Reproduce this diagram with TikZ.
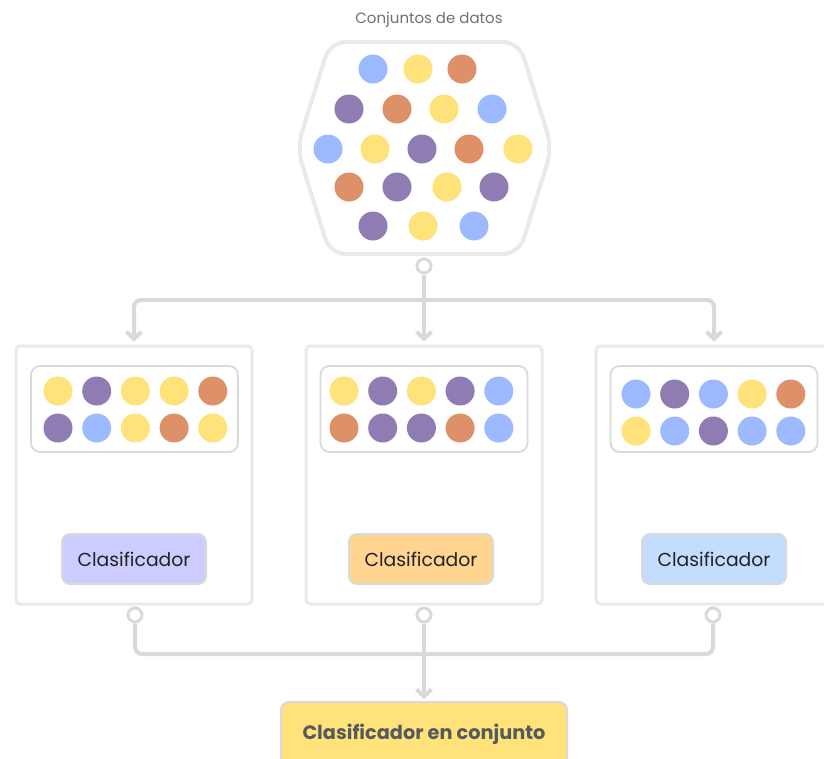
\documentclass[tikz,border=0pt]{standalone}
\usepackage{fontspec}
\setmainfont{Poppins}
\usetikzlibrary{arrows.meta}

\definecolor{dotblue}{HTML}{9DB9FF}
\definecolor{dotyellow}{HTML}{FFE27A}
\definecolor{dotorange}{HTML}{DE9068}
\definecolor{dotpurple}{HTML}{8E7CB3}
\definecolor{framegray}{HTML}{EAEAEA}
\definecolor{innergray}{HTML}{DADADA}
\definecolor{wiregray}{HTML}{D9D9D9}
\definecolor{lavender}{HTML}{CCCCFF}
\definecolor{peach}{HTML}{FFD591}
\definecolor{skyblue}{HTML}{C4DDFF}
\definecolor{labeltext}{HTML}{222222}
\definecolor{titlegray}{HTML}{707070}
\definecolor{ensembletext}{HTML}{555A60}

\tikzset{
  frame/.style={draw=framegray, line width=3pt, fill=white, rounded corners=4pt,
    minimum width=236pt, minimum height=258pt, inner sep=0pt},
  pool/.style={draw=innergray, line width=1.8pt, fill=white, rounded corners=9pt,
    minimum width=207pt, minimum height=86pt, inner sep=0pt},
  clf/.style={draw=innergray, line width=2pt, rounded corners=8pt,
    minimum width=144pt, minimum height=50pt, inner sep=0pt,
    font=\fontsize{18.8}{22}\selectfont, text=labeltext},
  port/.style={circle, draw=wiregray, line width=3pt, fill=white,
    minimum size=14pt, inner sep=0pt},
  wire/.style={draw=wiregray, line width=4pt, rounded corners=7pt},
  feed/.style={wire, -{Straight Barb[length=7pt, width=15pt]}, shorten >=3pt},
  ensemble/.style={draw=innergray, line width=2pt, rounded corners=8pt, fill=dotyellow,
    minimum width=286pt, minimum height=64pt, inner sep=0pt,
    font=\fontsize{19.3}{23}\selectfont\bfseries, text=ensembletext},
}

% one coloured sample point
\newcommand{\sample}[3]{\fill[#3] (#1,#2) circle[radius=14.5pt];}

\begin{document}
\begin{tikzpicture}[x=1pt, y=-1pt]
  \useasboundingbox (0,0) rectangle (824,758);
  \clip (0,0) rectangle (824,758);
  \fill[white] (0,0) rectangle (824,758);

  % ---- data set hexagon ----
  \node[font=\fontsize{15}{18}\selectfont, text=titlegray] (title) at (429,20) {Conjuntos de datos};
  \draw[framegray, line width=4pt, rounded corners=16pt]
    (330,42) -- (519,42) -- (552,148) -- (519,254) -- (330,254) -- (297,148) -- cycle;
  \coordinate (hexbottom) at (424,254);

  \foreach \x/\c in {373/dotblue, 418/dotyellow, 462/dotorange} {\sample{\x}{69}{\c}}
  \foreach \x/\c in {349/dotpurple, 397/dotorange, 444/dotyellow, 492/dotblue} {\sample{\x}{109}{\c}}
  \foreach \x/\c in {328/dotblue, 375/dotyellow, 422/dotpurple, 469/dotorange, 518/dotyellow} {\sample{\x}{149}{\c}}
  \foreach \x/\c in {349/dotorange, 397/dotpurple, 447/dotyellow, 494/dotpurple} {\sample{\x}{187}{\c}}
  \foreach \x/\c in {373/dotpurple, 423/dotyellow, 474/dotblue} {\sample{\x}{226}{\c}}

  % ---- three bootstrap samples with their classifiers ----
  \node[frame] (boxA) at (134,475) {};
  \node[frame] (boxB) at (424,475) {};
  \node[frame] (boxC) at (714,475) {};

  \node[pool] (poolA) at (134.5,409) {};
  \node[pool] (poolB) at (424,409) {};
  \node[pool] (poolC) at (714,409) {};

  \foreach \c [count=\i from 0] in {dotyellow, dotpurple, dotyellow, dotyellow, dotorange}
    {\sample{58+38.7*\i}{391}{\c}}
  \foreach \c [count=\i from 0] in {dotpurple, dotblue, dotyellow, dotorange, dotyellow}
    {\sample{58+38.7*\i}{428}{\c}}

  \foreach \c [count=\i from 0] in {dotyellow, dotpurple, dotyellow, dotpurple, dotblue}
    {\sample{344+38.7*\i}{391}{\c}}
  \foreach \c [count=\i from 0] in {dotorange, dotpurple, dotpurple, dotorange, dotblue}
    {\sample{344+38.7*\i}{428}{\c}}

  \foreach \c [count=\i from 0] in {dotblue, dotpurple, dotblue, dotyellow, dotorange}
    {\sample{636+38.7*\i}{394}{\c}}
  \foreach \c [count=\i from 0] in {dotyellow, dotblue, dotpurple, dotblue, dotblue}
    {\sample{636+38.7*\i}{431}{\c}}

  \node[clf, fill=lavender] (clfA) at (134,559) {Clasificador};
  \node[clf, fill=peach]    (clfB) at (421,559) {Clasificador};
  \node[clf, fill=skyblue]  (clfC) at (714,559) {Clasificador};

  % ---- split of the data set ----
  \node[port] (split) at (424,266) {};
  \coordinate (fork) at (424,300);
  \draw[feed] (split.south) -- (boxB.north);
  \draw[feed] (fork) -| (boxA.north);
  \draw[feed] (fork) -| (boxC.north);

  % ---- aggregation of the votes ----
  \node[port] (outA) at (135,615) {};
  \node[port] (outB) at (424,615) {};
  \node[port] (outC) at (713,615) {};
  \coordinate (merge) at (424,654);

  \node[ensemble] (final) at (424,734) {Clasificador en conjunto};

  \draw[wire] (outA.south) |- (merge) -| (outC.south);
  \draw[feed, shorten >=2pt] (outB.south) -- (final.north);
\end{tikzpicture}
\end{document}
